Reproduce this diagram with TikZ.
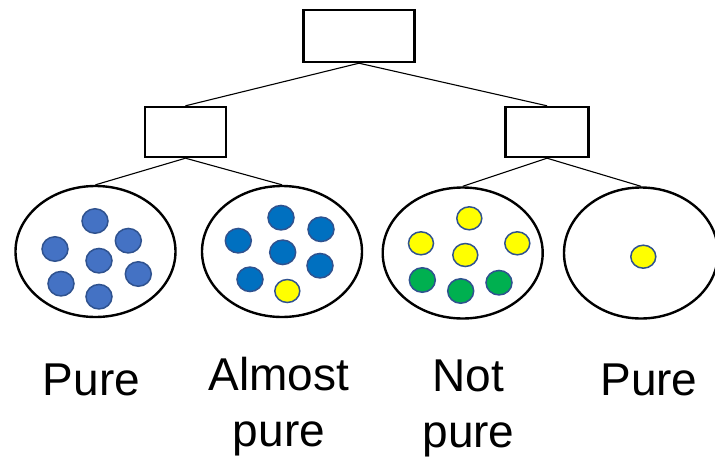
\documentclass[tikz,border=0pt]{standalone}
\usepackage{fontspec}
\setmainfont{Liberation Sans}
\usetikzlibrary{shapes.geometric}
\definecolor{dotblue}{HTML}{4472C4}
\definecolor{dotblueb}{HTML}{0070C0}
\definecolor{dotedge}{HTML}{2F528F}
\definecolor{dotyellow}{HTML}{FFFF00}
\definecolor{dotgreen}{HTML}{00B050}
\tikzset{
  treebox/.style={draw=black, line width=2.4pt, fill=white, rectangle, inner sep=0pt},
  leaf/.style={draw=black, line width=2.4pt, ellipse, inner sep=0pt, minimum width=160pt, minimum height=131pt},
  ball/.style={draw=dotedge, line width=1.5pt, ellipse, inner sep=0pt, minimum width=26pt, minimum height=24.5pt},
  bb/.style={ball, fill=dotblue},
  bc/.style={ball, fill=dotblueb},
  by/.style={ball, fill=dotyellow, minimum width=25pt, minimum height=23pt},
  bg/.style={ball, fill=dotgreen},
  edge/.style={draw=black, line width=1.1pt},
  lbl/.style={font=\fontsize{46}{56}\selectfont, align=center, anchor=base, inner sep=0pt}
}
\begin{document}
\begin{tikzpicture}[x=1pt, y=-1pt]
\useasboundingbox (0,0) rectangle (715,458);
% tree boxes
\node[treebox, minimum width=111pt, minimum height=52pt] (root) at (359,36) {};
\node[treebox, minimum width=81pt, minimum height=50pt] (lbox) at (185.5,132) {};
\node[treebox, minimum width=83pt, minimum height=50pt] (rbox) at (547,132) {};
% leaves
\node[leaf] (e1) at (95.5,251.5) {};
\node[leaf] (e2) at (282,251.5) {};
\node[leaf] (e3) at (462.7,253) {};
\node[leaf, minimum width=154pt] (e4) at (641,253) {};
% connectors
\draw[edge] (root.south) -- (lbox.north);
\draw[edge] (root.south) -- (rbox.north);
\draw[edge] (lbox.south) -- (e1.north);
\draw[edge] (lbox.south) -- (e2.north);
\draw[edge] (rbox.south) -- (e3.north);
\draw[edge] (rbox.south) -- (e4.north);
% dots leaf 1
\node[bb] (a1) at (95,221) {};
\node[bb] (a2) at (55,249) {};
\node[bb] (a3) at (128.3,240.7) {};
\node[bb] (a4) at (99,260.7) {};
\node[bb] (a5) at (138.3,274) {};
\node[bb] (a6) at (61,283.7) {};
\node[bb] (a7) at (99,296.7) {};
% dots leaf 2
\node[bc] (b1) at (281,217.7) {};
\node[bc] (b2) at (238.3,240.7) {};
\node[bc] (b3) at (321,229.3) {};
\node[bc] (b4) at (282.7,252.3) {};
\node[bc] (b5) at (320,265.7) {};
\node[bc] (b6) at (250,279.3) {};
\node[by] (b7) at (287.3,291) {};
% dots leaf 3
\node[by] (c1) at (469.3,218.3) {};
\node[by] (c2) at (421,243.3) {};
\node[by] (c3) at (517.3,243.3) {};
\node[by] (c4) at (465.3,255) {};
\node[bg] (c5) at (422.3,280) {};
\node[bg] (c6) at (460.7,291) {};
\node[bg] (c7) at (499,282.7) {};
% dot leaf 4
\node[by] (d1) at (643.3,256.7) {};
% labels
\node[lbl] (t1) at (91.5,395) {Pure};
\node[lbl] (t2) at (279,446) {Almost\\pure};
\node[lbl] (t3) at (468.5,447) {Not\\pure};
\node[lbl] (t4) at (649,395) {Pure};
\end{tikzpicture}
\end{document}
